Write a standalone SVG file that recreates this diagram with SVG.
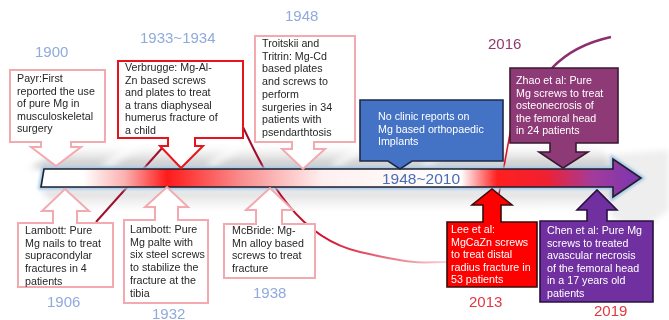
<svg xmlns="http://www.w3.org/2000/svg" width="669" height="320" viewBox="0 0 669 320">
<defs>
<style>
.t{font-family:"Liberation Sans",Arial,sans-serif;font-size:10.7px;fill:#262626}
.tw{font-family:"Liberation Sans",Arial,sans-serif;font-size:10.7px;fill:#ffffff}
.yr{font-family:"Liberation Sans",Arial,sans-serif;font-size:15px;fill:#8faadc}
.yr2{font-family:"Liberation Sans",Arial,sans-serif;font-size:15px;fill:#e0383e}
.pink{fill:#ffffff;stroke:#f2a9b0;stroke-width:2}
.red{fill:#ffffff;stroke:#e8141c;stroke-width:2}
</style>
<linearGradient id="barG" gradientUnits="userSpaceOnUse" x1="41" y1="0" x2="641" y2="0">
<stop offset="0" stop-color="#ffffff"/>
<stop offset="0.07" stop-color="#ffffff"/>
<stop offset="0.14" stop-color="#fbb0b0"/>
<stop offset="0.21" stop-color="#ff1a1a"/>
<stop offset="0.33" stop-color="#f98a8a"/>
<stop offset="0.47" stop-color="#fff0f0"/>
<stop offset="0.7" stop-color="#ffffff"/>
<stop offset="0.76" stop-color="#ff2020"/>
<stop offset="0.84" stop-color="#f02030"/>
<stop offset="0.92" stop-color="#a23c9c"/>
<stop offset="1" stop-color="#7a35b0"/>
</linearGradient>
<linearGradient id="shTop" x1="0" y1="0" x2="0" y2="1">
<stop offset="0" stop-color="#d8d8d8" stop-opacity="0"/>
<stop offset="1" stop-color="#bdbdbd"/>
</linearGradient>
<linearGradient id="shBot" x1="0" y1="0" x2="0" y2="1">
<stop offset="0" stop-color="#cfcfcf"/>
<stop offset="1" stop-color="#e6e6e6" stop-opacity="0"/>
</linearGradient>
<linearGradient id="curveG" gradientUnits="userSpaceOnUse" x1="243" y1="0" x2="445" y2="0">
<stop offset="0" stop-color="#9a0a30"/>
<stop offset="0.4" stop-color="#d0102a"/>
<stop offset="1" stop-color="#fbd0d5"/>
</linearGradient>
<filter id="blur" x="-10%" y="-50%" width="120%" height="200%"><feGaussianBlur stdDeviation="3"/></filter>
<filter id="glow" x="-5%" y="-50%" width="110%" height="200%"><feGaussianBlur stdDeviation="1.5"/></filter>
</defs>

<g id="shadow" filter="url(#blur)">
<polygon points="30,168 612,168 600,146 70,146" fill="url(#shTop)"/>
<polygon points="40,190 620,190 600,212 60,212" fill="url(#shBot)" opacity="0.8"/>
<polygon points="605,155 669,150 669,210 635,235 610,215" fill="#dadada" opacity="0.45"/>
<g fill="#ffffff" opacity="0.8">
<polygon points="100,166 112,166 140,148 128,148"/>
<polygon points="205,166 215,166 243,148 233,148"/>
<polygon points="330,166 340,166 368,148 358,148"/>
<polygon points="420,166 428,166 456,148 448,148"/>
</g>
</g>

<g id="connectors" fill="none">
<line x1="96" y1="222" x2="163" y2="147" stroke="#a01030" stroke-width="2"/>
<path d="M243,127 C268,180 298,238 360,252 S420,262 446,262" stroke="url(#curveG)" stroke-width="2"/>
<line x1="495" y1="216" x2="511" y2="128" stroke="#e01020" stroke-width="1.5"/>
<path d="M552,68 Q574,45 611,37" stroke="#8b2f6f" stroke-width="2.5"/>
</g>

<g id="timeline">
<path d="M44,169 H613 V159 L641,178 L613,197 V187 H41 Z" fill="none" stroke="#9dc3e6" stroke-width="5" filter="url(#glow)"/>
<path d="M44,169 H613 V159 L641,178 L613,197 V187 H41 Z" fill="url(#barG)" stroke="#1f1f2a" stroke-width="1.6" stroke-linejoin="miter"/>
<text x="382" y="184" style="font-family:'Liberation Sans',Arial,sans-serif;font-size:15.5px;fill:#4a6cb3">1948~2010</text>
</g>

<g id="payr">
<path class="pink" d="M10,70 H105 V142 H71 V147 H81 L56,166 L31,147 H41 V142 H10 Z"/>
<text class="t"><tspan x="17" y="82">Payr:First</tspan><tspan x="17" y="94.5">reported the use</tspan><tspan x="17" y="107">of pure Mg in</tspan><tspan x="17" y="119.5">musculoskeletal</tspan><tspan x="17" y="132">surgery</tspan></text>
<text class="yr" x="35" y="57">1900</text>
</g>

<g id="verbrugge">
<path class="red" d="M118,61 H243 V138 H195 V146 H203 L181,168 L160,146 H168 V138 H118 Z"/>
<text class="t"><tspan x="125" y="71">Verbrugge: Mg-Al-</tspan><tspan x="125" y="83.5">Zn based screws</tspan><tspan x="125" y="96">and plates to treat</tspan><tspan x="125" y="108.5">a trans diaphyseal</tspan><tspan x="125" y="121">humerus fracture of</tspan><tspan x="125" y="133.5">a child</tspan></text>
<text class="yr" x="140" y="43">1933~1934</text>
</g>

<g id="troitskii">
<path class="pink" d="M255,36 H355 V142 H314 V149 H325 L303,169 L282,149 H292 V142 H255 Z"/>
<text class="t"><tspan x="262" y="47">Troitskii and</tspan><tspan x="262" y="59.5">Tritrin: Mg-Cd</tspan><tspan x="262" y="72.3">based plates</tspan><tspan x="262" y="85">and screws to</tspan><tspan x="262" y="97.7">perform</tspan><tspan x="262" y="110.5">surgeries in 34</tspan><tspan x="262" y="123.2">patients with</tspan><tspan x="262" y="136">psendarthtosis</tspan></text>
<text class="yr" x="285" y="21">1948</text>
</g>

<g id="noclinic">
<path d="M360,100 H503 V161 H412 L400,169 L388,161 H360 Z" fill="#4472c4" stroke="#1c2a48" stroke-width="1.6"/>
<text class="tw"><tspan x="378" y="120">No clinic reports on</tspan><tspan x="378" y="132.7">Mg based orthopaedic</tspan><tspan x="378" y="145.4">Implants</tspan></text>
</g>

<g id="zhao">
<path d="M510,68 H618 V143 H576 V152 H588 L563,168 L539,152 H550 V143 H510 Z" fill="#8e3a76" stroke="#3a1a30" stroke-width="1.6"/>
<text class="tw"><tspan x="516" y="84">Zhao et al: Pure</tspan><tspan x="516" y="96.5">Mg screws to treat</tspan><tspan x="516" y="109">osteonecrosis of</tspan><tspan x="516" y="121.5">the femoral head</tspan><tspan x="516" y="134">in 24 patients</tspan></text>
<text x="488" y="49" style="font-family:'Liberation Sans',Arial,sans-serif;font-size:15px;fill:#8e3a6e">2016</text>
</g>

<g id="lambott1906">
<path class="pink" d="M18,223 H53 V211 H42 L65,189 L89,211 H77 V223 H113 V287 H18 Z"/>
<text class="t"><tspan x="25" y="234">Lambott: Pure</tspan><tspan x="25" y="246.7">Mg nails to treat</tspan><tspan x="25" y="259.4">supracondylar</tspan><tspan x="25" y="272.1">fractures in 4</tspan><tspan x="25" y="284.8">patients</tspan></text>
<text class="yr" x="47" y="307">1906</text>
</g>

<g id="lambott1932">
<path class="pink" d="M124,220 H155 V207 H145 L167,187 L188,207 H178 V220 H208 V303 H124 Z"/>
<text class="t"><tspan x="130" y="233">Lambott: Pure</tspan><tspan x="130" y="245.7">Mg palte with</tspan><tspan x="130" y="258.4">six steel screws</tspan><tspan x="130" y="271.1">to stabilize the</tspan><tspan x="130" y="283.8">fracture at the</tspan><tspan x="130" y="296.5">tibia</tspan></text>
<text class="yr" x="152" y="318.5">1932</text>
</g>

<g id="mcbride">
<path class="pink" d="M224,224 H256 V210 H246 L270,188 L293,210 H282 V224 H315 V278 H224 Z"/>
<text class="t"><tspan x="232" y="234">McBride: Mg-</tspan><tspan x="232" y="246.7">Mn alloy based</tspan><tspan x="232" y="259.4">screws to treat</tspan><tspan x="232" y="272.1">fracture</tspan></text>
<text class="yr" x="253" y="298">1938</text>
</g>

<g id="lee">
<path d="M447,222 H483 V205 H472 L492,189 L512,205 H501 V222 H537 V287 H447 Z" fill="#ff0000" stroke="#3a0a0a" stroke-width="1.6"/>
<text class="tw"><tspan x="451" y="233">Lee et al:</tspan><tspan x="451" y="245.5">MgCaZn screws</tspan><tspan x="451" y="258">to treat distal</tspan><tspan x="451" y="270.5">radius fracture in</tspan><tspan x="451" y="283">53 patients</tspan></text>
<text class="yr2" x="469" y="307">2013</text>
</g>

<g id="chen">
<path d="M540,221 H587 V210 H577 L597,190 L617,210 H607 V221 H653 V302 H540 Z" fill="#7030a0" stroke="#2a1040" stroke-width="1.6"/>
<text class="tw"><tspan x="547" y="234">Chen et al: Pure Mg</tspan><tspan x="547" y="246.5">screws to treated</tspan><tspan x="547" y="259">avascular necrosis</tspan><tspan x="547" y="271.5">of the femoral head</tspan><tspan x="547" y="284">in a 17 years old</tspan><tspan x="547" y="296.5">patients</tspan></text>
<text class="yr2" x="594" y="316">2019</text>
</g>
</svg>
